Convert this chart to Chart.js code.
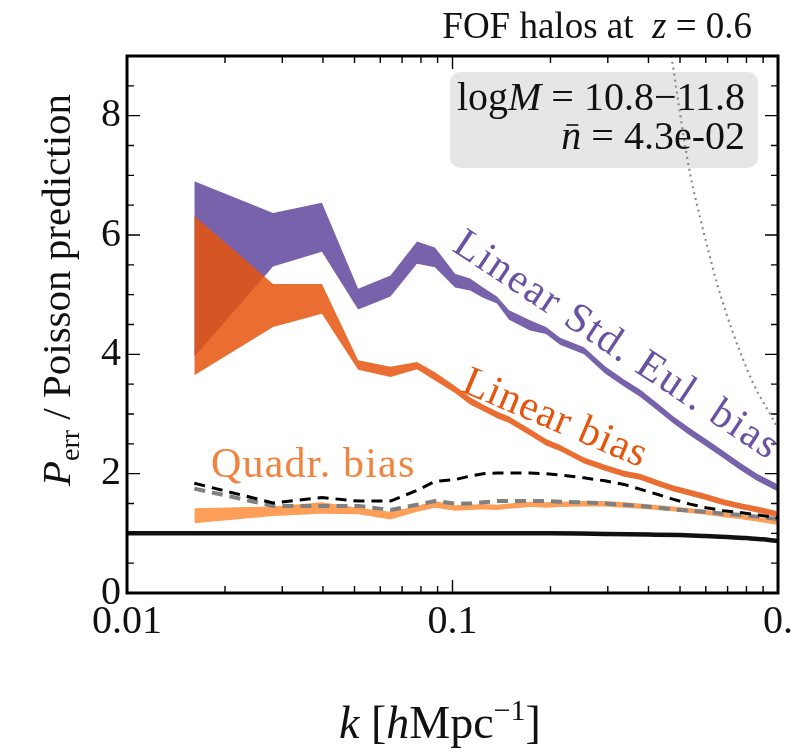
<!DOCTYPE html>
<html>
<head>
<meta charset="utf-8">
<script src="https://cdn.jsdelivr.net/npm/chart.js@4.4.0/dist/chart.umd.min.js"></script>
<style>
  html, body { margin: 0; padding: 0; background: #fff; overflow: hidden; }
</style>
</head>
<body>
<canvas id="chart" width="794" height="752"></canvas>
<script>
// k bins [h/Mpc]
const kBins = [0.0161, 0.0281, 0.0397, 0.0513, 0.0645, 0.0778, 0.0883, 0.1018, 0.1132, 0.1241,
  0.137, 0.1492, 0.173, 0.1938, 0.214, 0.2535, 0.2941, 0.3365, 0.3767, 0.4279,
  0.4775, 0.5364, 0.6008, 0.6802, 0.7615, 0.862, 1.0];

// Linear Std. Eul. bias band
const stdEulHi = [6.9, 6.37, 6.54, 5.1, 5.32, 5.89, 5.79, 5.35, 5.27, 5.12,
  4.97, 4.74, 4.57, 4.46, 4.28, 4.12, 3.8, 3.58, 3.41, 3.17,
  2.96, 2.76, 2.58, 2.38, 2.19, 2.0, 1.82];
const stdEulLo = [3.96, 5.47, 5.72, 4.75, 4.97, 5.52, 5.46, 5.12, 5.07, 4.95,
  4.85, 4.58, 4.40, 4.34, 4.16, 4.0, 3.68, 3.46, 3.29, 3.05,
  2.84, 2.64, 2.46, 2.26, 2.07, 1.88, 1.70];

// Linear bias band
const linHi = [6.32, 5.18, 5.18, 3.9, 3.79, 3.87, 3.7, 3.47, 3.28, 3.16,
  3.04, 2.96, 2.75, 2.58, 2.48, 2.27, 2.15, 2.05, 2.0, 1.89,
  1.8, 1.73, 1.66, 1.57, 1.51, 1.45, 1.37];
const linLo = [3.65, 4.46, 4.68, 3.74, 3.62, 3.75, 3.56, 3.35, 3.16, 3.05,
  2.93, 2.85, 2.64, 2.47, 2.38, 2.17, 2.05, 1.95, 1.9, 1.79,
  1.7, 1.63, 1.56, 1.47, 1.41, 1.35, 1.27];

// Quadr. bias band
const quadHi = [1.42, 1.45, 1.52, 1.43, 1.36, 1.46, 1.54, 1.47, 1.48, 1.49,
  1.48, 1.50, 1.53, 1.52, 1.53, 1.54, 1.54, 1.52, 1.50, 1.47,
  1.45, 1.42, 1.39, 1.35, 1.32, 1.28, 1.22];
const quadLo = [1.17, 1.29, 1.33, 1.32, 1.23, 1.36, 1.43, 1.38, 1.39, 1.40,
  1.39, 1.41, 1.44, 1.43, 1.44, 1.45, 1.45, 1.43, 1.41, 1.39,
  1.37, 1.34, 1.31, 1.27, 1.24, 1.20, 1.14];

// dashed curves
const grayDashed = [1.75, 1.46, 1.46, 1.46, 1.39, 1.48, 1.54, 1.5, 1.5, 1.52,
  1.54, 1.54, 1.54, 1.54, 1.53, 1.52, 1.5, 1.48, 1.46, 1.43,
  1.4, 1.38, 1.36, 1.33, 1.31, 1.28, 1.24];
const blackDashed = [1.84, 1.51, 1.6, 1.54, 1.54, 1.72, 1.87, 1.9, 1.96, 2.0,
  2.01, 2.01, 2.01, 2.0, 1.98, 1.93, 1.88, 1.82, 1.74, 1.65,
  1.57, 1.49, 1.43, 1.38, 1.35, 1.31, 1.26];

// Poisson reference (solid black)
const kPoisson = [0.01, 0.05, 0.1, 0.2, 0.3, 0.4, 0.5, 0.6, 0.7, 0.8, 0.9, 1.0];
const poisson = [1.0, 1.0, 1.0, 1.0, 0.99, 0.98, 0.97, 0.955, 0.94, 0.92, 0.9, 0.87];

// dotted gray curve
const kDotted = [0.467, 0.4725, 0.5108, 0.5364, 0.5759, 0.6496, 0.7275, 0.8381, 0.9929, 1.0];
const dotted = [9.1, 8.93, 7.71, 7.04, 6.30, 5.19, 4.36, 3.52, 2.78, 2.74];

// ticks
const xTicks = [0.01, 0.1, 1];
const xTickLabels = ['0.01', '0.1', '0.'];
const xMinor = [0.02, 0.03, 0.04, 0.05, 0.06, 0.07, 0.08, 0.09, 0.2, 0.3, 0.4, 0.5, 0.6, 0.7, 0.8, 0.9];
const yTicks = [0, 2, 4, 6, 8];
const yMinor = [0.5, 1, 1.5, 2.5, 3, 3.5, 4.5, 5, 5.5, 6.5, 7, 7.5, 8.5];

const SERIF = '"Liberation Serif", "Times New Roman", serif';
const PURPLE = 'rgba(106,81,163,0.9)';
const ORANGE = 'rgba(230,85,13,0.85)';
const LIGHTORANGE = 'rgba(253,141,60,0.85)';

const pts = (xs, ys) => xs.map((x, i) => ({ x: x, y: ys[i] }));

// draw a row of text pieces with mixed styles
function drawRuns(ctx, runs, x, y, size, align) {
  const fontOf = r => (r.it ? 'italic ' : '') + (r.size || size) + 'px ' + SERIF;
  let total = 0;
  runs.forEach(r => { ctx.font = fontOf(r); r.w = ctx.measureText(r.t).width; total += r.w; });
  let cx = align === 'right' ? x - total : align === 'center' ? x - total / 2 : x;
  ctx.textAlign = 'left';
  ctx.textBaseline = 'alphabetic';
  runs.forEach(r => {
    ctx.font = fontOf(r);
    ctx.fillText(r.t, cx, y + (r.dy || 0));
    if (r.bar) {
      ctx.fillRect(cx + r.w * 0.25, y - size * 0.62, r.w * 0.6, 1.6);
    }
    cx += r.w;
  });
}

function drawRotated(ctx, text, x, y, angle, color, size, spacing) {
  ctx.save();
  ctx.translate(x, y);
  ctx.rotate(angle * Math.PI / 180);
  ctx.font = size + 'px ' + SERIF;
  ctx.letterSpacing = spacing + 'px';
  ctx.fillStyle = color;
  ctx.textAlign = 'left';
  ctx.textBaseline = 'alphabetic';
  ctx.fillText(text, 0, 0);
  ctx.restore();
}

const decor = {
  id: 'decor',
  beforeDatasetsDraw(chart) {
    const ctx = chart.ctx;
    ctx.save();
    ctx.fillStyle = '#e6e6e6';
    ctx.beginPath();
    ctx.roundRect(450, 72, 308, 96, 10);
    ctx.fill();
    ctx.restore();
  },
  afterDraw(chart) {
    const ctx = chart.ctx;
    const ca = chart.chartArea;
    const xa = chart.scales.x, ya = chart.scales.y;
    ctx.save();

    // ticks pointing inward, on all four sides
    ctx.strokeStyle = '#000';
    ctx.lineWidth = 1.4;
    ctx.beginPath();
    const xt = (v, len) => {
      const px = xa.getPixelForValue(v);
      ctx.moveTo(px, ca.bottom); ctx.lineTo(px, ca.bottom - len);
      ctx.moveTo(px, ca.top); ctx.lineTo(px, ca.top + len);
    };
    const yt = (v, len) => {
      const py = ya.getPixelForValue(v);
      ctx.moveTo(ca.left, py); ctx.lineTo(ca.left + len, py);
      ctx.moveTo(ca.right, py); ctx.lineTo(ca.right - len, py);
    };
    xTicks.forEach(v => xt(v, 13));
    xMinor.forEach(v => xt(v, 7));
    yTicks.forEach(v => yt(v, 13));
    yMinor.forEach(v => yt(v, 7));
    ctx.stroke();

    // frame
    ctx.lineWidth = 3;
    ctx.strokeRect(ca.left, ca.top, ca.right - ca.left, ca.bottom - ca.top);

    // curve labels
    drawRotated(ctx, 'Linear Std. Eul. bias', 451, 250, 33.5, '#6a51a3', 42, 1.8);
    drawRotated(ctx, 'Linear bias', 460, 391, 23, '#e6550d', 42, 0.8);
    ctx.save();
    ctx.font = '42px ' + SERIF;
    ctx.letterSpacing = '1.2px';
    ctx.fillStyle = '#f0843f';
    ctx.textAlign = 'left';
    ctx.fillText('Quadr. bias', 211, 477);
    ctx.restore();

    ctx.fillStyle = '#111';
    // title
    drawRuns(ctx, [{ t: 'FOF halos at  ' }, { t: 'z', it: true }, { t: ' = 0.6' }], 752, 38, 37, 'right');
    // box text
    drawRuns(ctx, [{ t: 'log' }, { t: 'M', it: true }, { t: ' = 10.8\u221211.8' }], 745, 110, 40, 'right');
    drawRuns(ctx, [{ t: 'n', it: true, bar: true }, { t: ' = 4.3e-02' }], 745, 149, 40, 'right');

    // axis titles
    drawRuns(ctx, [{ t: 'k', it: true }, { t: ' [' }, { t: 'h', it: true }, { t: 'Mpc' },
      { t: '\u22121', size: 30, dy: -18 }, { t: ']' }], 440, 738, 46, 'center');
    ctx.save();
    ctx.translate(70, 290);
    ctx.rotate(-Math.PI / 2);
    drawRuns(ctx, [{ t: 'P', it: true }, { t: 'err', size: 28, dy: 9 }, { t: ' / Poisson prediction' }], 0, 0, 41, 'center');
    ctx.restore();

    ctx.restore();
  }
};

const band = (ys, color, fill, order) => ({
  data: pts(kBins, ys), borderWidth: 0, pointRadius: 0, tension: 0,
  fill: fill, backgroundColor: color, borderColor: color, order: order
});

new Chart(document.getElementById('chart'), {
  type: 'line',
  data: {
    datasets: [
      band(stdEulHi, PURPLE, '+1', 7),
      band(stdEulLo, PURPLE, false, 7),
      band(linHi, ORANGE, '+1', 6),
      band(linLo, ORANGE, false, 6),
      band(quadHi, LIGHTORANGE, '+1', 5),
      band(quadLo, LIGHTORANGE, false, 5),
      { data: pts(kBins, grayDashed), borderColor: '#808080', borderWidth: 4, borderDash: [11, 7],
        pointRadius: 0, fill: false, order: 4 },
      { data: pts(kBins, blackDashed), borderColor: '#000', borderWidth: 3, borderDash: [11, 7],
        pointRadius: 0, fill: false, order: 3 },
      { data: pts(kPoisson, poisson), borderColor: '#111', borderWidth: 4.5,
        pointRadius: 0, fill: false, cubicInterpolationMode: 'monotone', order: 2 },
      { data: pts(kDotted, dotted), borderColor: '#8c8c8c', borderWidth: 2.2, borderDash: [2, 4],
        pointRadius: 0, fill: false, cubicInterpolationMode: 'monotone', order: 1 }
    ]
  },
  options: {
    responsive: false,
    animation: false,
    devicePixelRatio: 1,
    events: [],
    layout: { padding: { left: 0, right: 16, top: 56, bottom: 0 } },
    plugins: { legend: { display: false }, tooltip: { enabled: false } },
    scales: {
      x: {
        type: 'logarithmic', min: 0.01, max: 1,
        grid: { display: false, drawTicks: false },
        border: { display: false },
        afterBuildTicks: s => { s.ticks = xTicks.map(v => ({ value: v })); },
        afterFit: s => { s.height = 159; s.paddingLeft = 0; s.paddingRight = 0; },
        ticks: {
          autoSkip: false, maxRotation: 0, padding: 5, color: '#111',
          font: { family: SERIF, size: 40 },
          callback: v => xTickLabels[xTicks.indexOf(v)]
        }
      },
      y: {
        min: 0, max: 9,
        grid: { display: false, drawTicks: false },
        border: { display: false },
        afterBuildTicks: s => { s.ticks = yTicks.map(v => ({ value: v })); },
        afterFit: s => { s.width = 127; },
        ticks: {
          padding: 6, color: '#111',
          font: { family: SERIF, size: 40 },
          callback: v => String(v)
        }
      }
    }
  },
  plugins: [decor]
});
</script>
</body>
</html>
